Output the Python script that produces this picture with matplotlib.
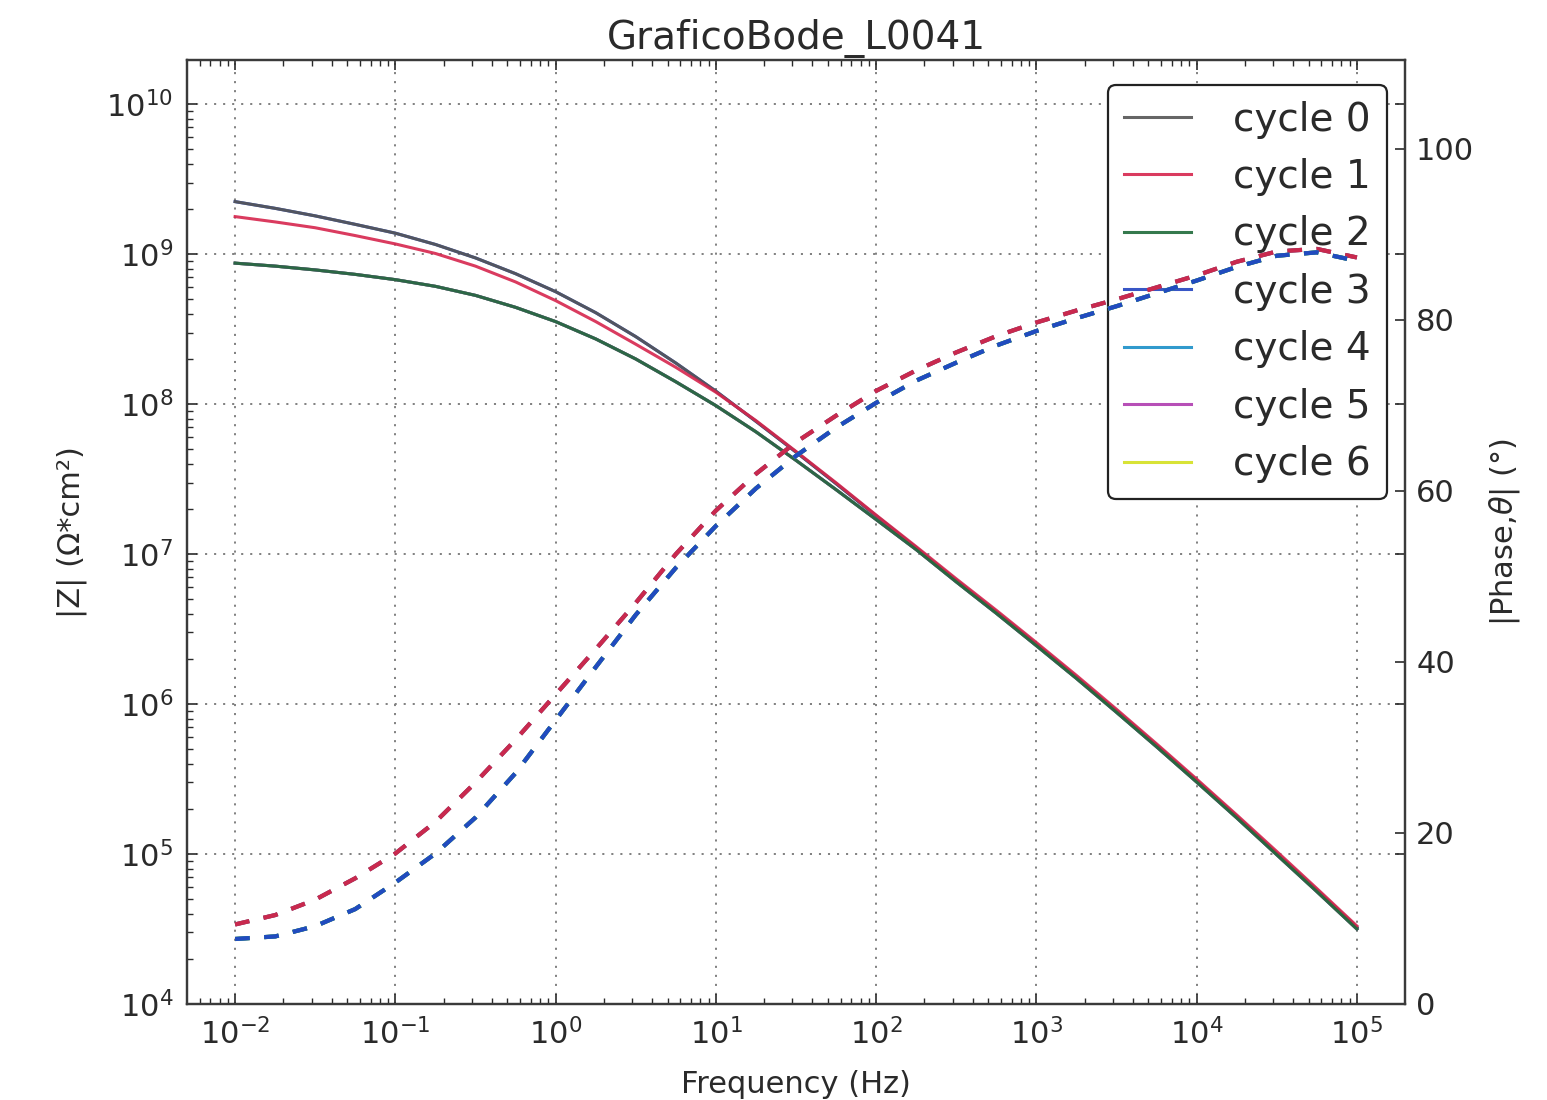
#bode plot, |Z| and phase for the cycles of L0041

import matplotlib
matplotlib.use("Agg")
import matplotlib.pyplot as plt
from matplotlib.ticker import FixedLocator, LogLocator, NullFormatter

# frequencies (Hz), quarter decade steps
freqs = [0.01, 0.0178, 0.0316, 0.0562, 0.1, 0.178, 0.316, 0.562,
         1.0, 1.78, 3.16, 5.62, 10.0, 17.8, 31.6, 56.2,
         100.0, 178.0, 316.0, 562.0, 1000.0, 1780.0, 3160.0, 5620.0,
         1.0e4, 1.78e4, 3.16e4, 5.62e4, 1.0e5]

# |Z| (ohm*cm2), three families of curves
z_high = [2.24e9, 2.02e9, 1.80e9, 1.58e9, 1.38e9, 1.16e9, 9.44e8, 7.41e8,
          5.62e8, 4.07e8, 2.82e8, 1.88e8, 1.22e8, 7.67e7, 4.79e7, 2.95e7,
          1.80e7, 1.10e7, 6.68e6, 4.12e6, 2.51e6, 1.51e6, 9.0e5, 5.31e5,
          3.09e5, 1.78e5, 1.01e5, 5.75e4, 3.24e4]
z_mid = [1.78e9, 1.64e9, 1.50e9, 1.33e9, 1.17e9, 1.01e9, 8.32e8, 6.53e8,
         4.90e8, 3.55e8, 2.51e8, 1.76e8, 1.20e8, 7.76e7, 4.84e7, 2.99e7,
         1.82e7, 1.12e7, 6.84e6, 4.22e6, 2.57e6, 1.55e6, 9.23e5, 5.43e5,
         3.16e5, 1.82e5, 1.04e5, 5.89e4, 3.31e4]
z_low = [8.71e8, 8.32e8, 7.85e8, 7.33e8, 6.76e8, 6.10e8, 5.31e8, 4.42e8,
         3.55e8, 2.72e8, 2.00e8, 1.41e8, 9.77e7, 6.53e7, 4.22e7, 2.69e7,
         1.70e7, 1.07e7, 6.53e6, 4.03e6, 2.45e6, 1.48e6, 8.81e5, 5.19e5,
         3.02e5, 1.74e5, 9.89e4, 5.62e4, 3.16e4]

# |phase| (deg), two families
ph_upper = [9.3, 10.4, 12.2, 14.7, 17.6, 21.3, 25.9, 30.9,
            36.2, 41.5, 46.9, 52.6, 57.7, 62.0, 65.7, 68.8,
            71.7, 74.1, 76.2, 78.1, 79.7, 81.1, 82.4, 83.8,
            85.2, 86.8, 88.0, 88.3, 87.3]
ph_lower = [7.6, 7.9, 9.1, 11.1, 14.2, 17.6, 21.8, 27.0,
            33.2, 39.4, 45.5, 51.0, 55.9, 60.3, 64.1, 67.4,
            70.3, 72.9, 75.0, 77.0, 78.7, 80.2, 81.6, 83.1,
            84.6, 86.2, 87.5, 87.9, 86.9]

x_ticks = [1e-2, 1e-1, 1e0, 1e1, 1e2, 1e3, 1e4, 1e5]
z_ticks = [1e4, 1e5, 1e6, 1e7, 1e8, 1e9, 1e10]
ph_ticks = [0, 20, 40, 60, 80, 100]

cycle_labels = ["cycle 0", "cycle 1", "cycle 2", "cycle 3",
                "cycle 4", "cycle 5", "cycle 6"]
cycle_colors = ["#555555", "#d6254d", "#1f6b3a", "#2244c0",
                "#1a8fc8", "#b03cb0", "#d4e020"]
cycle_z = [z_high, z_mid, z_low, z_high, z_low, z_low, z_low]
cycle_ph = [ph_upper, ph_upper, ph_lower, ph_lower, ph_lower, ph_upper, ph_lower]

# stacking so the darker colours end up on top like in the original
z_order = [5, 5, 5, 3, 3, 4, 2]
ph_order = [2, 3, 2, 4, 3, 1, 1]

plt.rcParams["font.family"] = "DejaVu Sans"
plt.rcParams["font.size"] = 22
plt.rcParams["lines.scale_dashes"] = False
text_col = "#2a2a2a"

fig = plt.figure(figsize=(15.47, 11.0), dpi=100)
ax1 = fig.add_axes([0.1209, 0.0873, 0.7873, 0.8582])
ax2 = ax1.twinx()

handles = []
for i in range(len(cycle_labels)):
    h, = ax1.plot(freqs, cycle_z[i], color=cycle_colors[i], lw=2.2,
                  alpha=0.9, zorder=z_order[i], label=cycle_labels[i])
    handles.append(h)
    ax2.plot(freqs, cycle_ph[i], color=cycle_colors[i], lw=3.0,
             dashes=(10.5, 10.5), alpha=0.9, zorder=ph_order[i])

ax1.set_xscale("log")
ax1.set_yscale("log")
ax1.set_xlim(10 ** -2.3, 10 ** 5.3)
ax1.set_ylim(1e4, 10 ** 10.295)
ax2.set_ylim(0, 110.4)

ax1.xaxis.set_major_locator(FixedLocator(x_ticks))
ax1.xaxis.set_minor_locator(LogLocator(base=10, subs=range(2, 10), numticks=20))
ax1.xaxis.set_minor_formatter(NullFormatter())
ax1.yaxis.set_major_locator(FixedLocator(z_ticks))
ax1.yaxis.set_minor_locator(LogLocator(base=10, subs=range(2, 10), numticks=20))
ax1.yaxis.set_minor_formatter(NullFormatter())
ax2.yaxis.set_major_locator(FixedLocator(ph_ticks))

ax1.grid(True, which="major", color="0.5", lw=1.4, dashes=(1.5, 5))

ax1.tick_params(which="both", direction="in", top=True, right=False,
                colors=text_col, labelsize=22)
ax1.tick_params(which="major", length=7, width=1.2, pad=10)
ax1.tick_params(which="minor", length=4, width=1.0)
ax1.tick_params(axis="y", which="major", right=True)
ax2.tick_params(which="both", direction="in", length=7, width=1.2,
                colors=text_col, labelsize=22, pad=8)

for ax in (ax1, ax2):
    for sp in ax.spines.values():
        sp.set_color("#3a3a3a")
        sp.set_linewidth(1.6)

ax1.set_xlabel("Frequency (Hz)", color=text_col, fontsize=22, labelpad=14)
ax1.set_ylabel("|Z| (\u03a9*cm\u00b2)", color=text_col, fontsize=22, labelpad=14)
ax2.set_ylabel(r"|Phase,$\theta$| (°)", color=text_col, fontsize=22, labelpad=9)
ax1.set_title("GraficoBode_L0041", color=text_col, fontsize=28, pad=8)

leg = ax1.legend(handles=handles, loc="upper right",
                 bbox_to_anchor=(0.985, 0.9735), fontsize=28,
                 fancybox=True, framealpha=1.0, edgecolor="#222222",
                 borderpad=0.4, labelspacing=0.5, handlelength=1.72,
                 handletextpad=1.1, borderaxespad=0.0)
leg.get_frame().set_linewidth(1.6)
for t in leg.get_texts():
    t.set_color(text_col)

fig.savefig("out.png", dpi=100, facecolor="white")
